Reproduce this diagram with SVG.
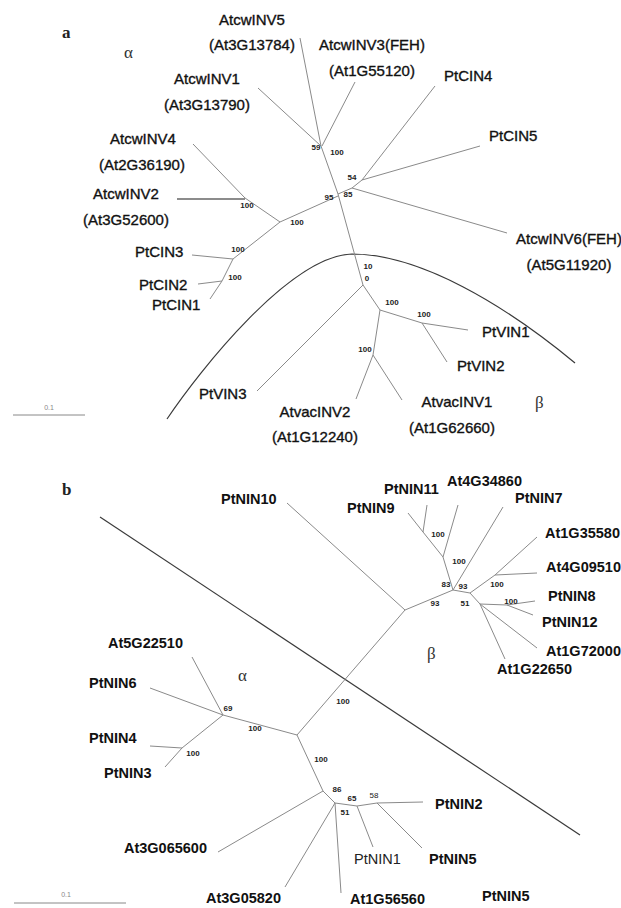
<svg xmlns="http://www.w3.org/2000/svg" width="621" height="908" viewBox="0 0 621 908">
<style>
.br{fill:none;stroke:#8a8a8a;stroke-width:1}
.dv{fill:none;stroke:#3a3a3a;stroke-width:1.2}
.la{font-family:"Liberation Sans",Arial,sans-serif;font-size:15px;fill:#111;stroke:#111;stroke-width:0.35}
.ln{font-family:"Liberation Sans",Arial,sans-serif;font-size:14.5px;fill:#222}
.lb{font-family:"Liberation Sans",Arial,sans-serif;font-size:14.5px;font-weight:bold;fill:#111}
.bs{font-family:"Liberation Sans",Arial,sans-serif;font-size:8px;font-weight:bold;fill:#222;text-anchor:middle}
.gk{font-family:"Liberation Serif","Times New Roman",serif;font-size:17px;fill:#333}
.pn{font-family:"Liberation Serif","Times New Roman",serif;font-size:17px;font-weight:bold;fill:#222}
.sc{font-family:"Liberation Sans",Arial,sans-serif;font-size:7px;fill:#888;text-anchor:middle}
.m{text-anchor:middle}
</style>
<rect width="621" height="908" fill="#fff"/>

<text class="pn" x="62" y="38">a</text>
<text class="gk" x="124" y="58">α</text>
<text class="gk" x="535" y="408">β</text>
<text class="pn" x="62" y="495">b</text>
<text class="gk" x="238" y="681">α</text>
<text class="gk" x="427" y="659">β</text>

<g id="scale-a">
<line x1="13" y1="415" x2="85" y2="415" stroke="#888" stroke-width="1"/>
<text class="sc" x="49" y="410">0.1</text>
</g>
<g id="scale-b">
<line x1="14" y1="903" x2="126" y2="903" stroke="#888" stroke-width="1"/>
<text class="sc" x="66" y="897">0.1</text>
</g>

<g id="connectors">
<path class="dv" d="M167,419 C200,370 290,256 352,254 C420,254 505,305 575,363"/>
<path class="dv" d="M100,517 L580,835"/>
<path class="br" d="M300,38 L321,146 L338,194 L363,285"/>
<path class="br" d="M258,88 L321,146 M355,82 L322,146"/>
<path class="br" d="M338,194 L352,188 L362,180 L435,86 M362,180 L480,146 M352,188 L507,233"/>
<path class="br" d="M338,196 L280,222 L245,198 L193,144"/>
<path d="M177,199 L245,199" fill="none" stroke="#666" stroke-width="1.5"/>
<path class="br" d="M280,222 L233,259 L192,255 M233,259 L222,281 L198,284 M222,281 L210,299"/>
<path class="br" d="M363,285 L257,391 M363,285 L380,310 L422,323 L468,330 M422,323 L447,362"/>
<path class="br" d="M380,310 L373,355 L356,399 M373,355 L402,400"/>
<path class="br" d="M297,735 L405,610 L287,503 M405,610 L453,590"/>
<path class="br" d="M453,590 L443,557 L458,505 M443,557 L423,532 L427,505 M423,532 L408,513"/>
<path class="br" d="M453,590 L503,507"/>
<path class="br" d="M453,590 L470,593 L495,575 L537,537 M495,575 L537,573"/>
<path class="br" d="M470,593 L480,604 L507,605 L535,601 M507,605 L533,615 M480,604 L537,648 M480,604 L505,659"/>
<path class="br" d="M297,735 L223,715 L192,657 M223,715 L150,688 M223,715 L182,748 L150,746 M182,748 L165,767"/>
<path class="br" d="M297,735 L323,791 L218,852 M323,791 L335,803 L285,887 M335,803 L341,893 M335,803 L357,806 L373,847 M357,806 L377,803 L423,802 M377,803 L422,848"/>
</g>

<g id="bootstrap-a">
<text class="bs" x="316" y="150">59</text>
<text class="bs" x="337" y="155">100</text>
<text class="bs" x="352" y="180">54</text>
<text class="bs" x="329" y="200">95</text>
<text class="bs" x="348" y="197">85</text>
<text class="bs" x="247" y="208">100</text>
<text class="bs" x="297" y="225">100</text>
<text class="bs" x="238" y="252">100</text>
<text class="bs" x="235" y="280">100</text>
<text class="bs" x="368" y="269">10</text>
<text class="bs" x="367" y="281">0</text>
<text class="bs" x="392" y="305">100</text>
<text class="bs" x="424" y="317">100</text>
<text class="bs" x="365" y="352">100</text>
</g>
<g id="bootstrap-b">
<text class="bs" x="343" y="704">100</text>
<text class="bs" x="435" y="606">93</text>
<text class="bs" x="446" y="587">83</text>
<text class="bs" x="463" y="589">93</text>
<text class="bs" x="465" y="606">51</text>
<text class="bs" x="459" y="564">100</text>
<text class="bs" x="438" y="537">100</text>
<text class="bs" x="497" y="587">100</text>
<text class="bs" x="511" y="604">100</text>
<text class="bs" x="228" y="711">69</text>
<text class="bs" x="255" y="731">100</text>
<text class="bs" x="193" y="756">100</text>
<text class="bs" x="321" y="762">100</text>
<text class="bs" x="337" y="792">86</text>
<text class="bs" x="352" y="801">65</text>
<text class="bs" x="345" y="815">51</text>
<text class="bs" x="374" y="798" style="font-weight:normal">58</text>
</g>

<g id="AtcwINV5"><text class="la m" x="252" y="25">AtcwINV5</text><text class="la m" x="252" y="50">(At3G13784)</text></g>
<g id="AtcwINV1"><text class="la m" x="207" y="84">AtcwINV1</text><text class="la m" x="207" y="110">(At3G13790)</text></g>
<g id="AtcwINV4"><text class="la m" x="143" y="144">AtcwINV4</text><text class="la m" x="142" y="170">(At2G36190)</text></g>
<g id="AtcwINV2"><text class="la m" x="126" y="199">AtcwINV2</text><text class="la m" x="126" y="225">(At3G52600)</text></g>
<g id="AtcwINV3"><text class="la m" x="372" y="50">AtcwINV3(FEH)</text><text class="la m" x="372" y="76">(At1G55120)</text></g>
<g id="PtCIN4"><text class="la" x="444" y="81">PtCIN4</text></g>
<g id="PtCIN5"><text class="la" x="489" y="141">PtCIN5</text></g>
<g id="AtcwINV6"><text class="la m" x="569" y="244">AtcwINV6(FEH)</text><text class="la m" x="569" y="270">(At5G11920)</text></g>
<g id="PtCIN3"><text class="la" x="135" y="257">PtCIN3</text></g>
<g id="PtCIN2"><text class="la" x="139" y="290">PtCIN2</text></g>
<g id="PtCIN1"><text class="la" x="152" y="310">PtCIN1</text></g>
<g id="PtVIN3"><text class="la" x="199" y="399">PtVIN3</text></g>
<g id="AtvacINV2"><text class="la m" x="315" y="417">AtvacINV2</text><text class="la m" x="315" y="442">(At1G12240)</text></g>
<g id="AtvacINV1"><text class="la m" x="457" y="407">AtvacINV1</text><text class="la m" x="452" y="433">(At1G62660)</text></g>
<g id="PtVIN1"><text class="la" x="482" y="337">PtVIN1</text></g>
<g id="PtVIN2"><text class="la" x="457" y="371">PtVIN2</text></g>

<g id="PtNIN10"><text class="lb" x="221" y="504">PtNIN10</text></g>
<g id="PtNIN11"><text class="lb" x="384" y="494">PtNIN11</text></g>
<g id="At4G34860"><text class="lb" x="447" y="486">At4G34860</text></g>
<g id="PtNIN9"><text class="lb" x="347" y="513">PtNIN9</text></g>
<g id="PtNIN7"><text class="lb" x="515" y="503">PtNIN7</text></g>
<g id="At1G35580"><text class="lb" x="545" y="538">At1G35580</text></g>
<g id="At4G09510"><text class="lb" x="546" y="572">At4G09510</text></g>
<g id="PtNIN8"><text class="lb" x="548" y="601">PtNIN8</text></g>
<g id="PtNIN12"><text class="lb" x="542" y="627">PtNIN12</text></g>
<g id="At1G72000"><text class="lb" x="546" y="656">At1G72000</text></g>
<g id="At1G22650"><text class="lb" x="497" y="674">At1G22650</text></g>
<g id="At5G22510"><text class="lb" x="108" y="648">At5G22510</text></g>
<g id="PtNIN6"><text class="lb" x="89" y="688">PtNIN6</text></g>
<g id="PtNIN4"><text class="lb" x="89" y="743">PtNIN4</text></g>
<g id="PtNIN3"><text class="lb" x="104" y="778">PtNIN3</text></g>
<g id="PtNIN2"><text class="lb" x="435" y="809">PtNIN2</text></g>
<g id="At3G065600"><text class="lb" x="207" y="853" text-anchor="end">At3G065600</text></g>
<g id="PtNIN1"><text class="ln" x="354" y="864">PtNIN1</text></g>
<g id="PtNIN5a"><text class="lb" x="429" y="864">PtNIN5</text></g>
<g id="At3G05820"><text class="lb" x="206" y="903">At3G05820</text></g>
<g id="At1G56560"><text class="lb" x="350" y="904">At1G56560</text></g>
<g id="PtNIN5b"><text class="lb" x="482" y="901">PtNIN5</text></g>
</svg>
